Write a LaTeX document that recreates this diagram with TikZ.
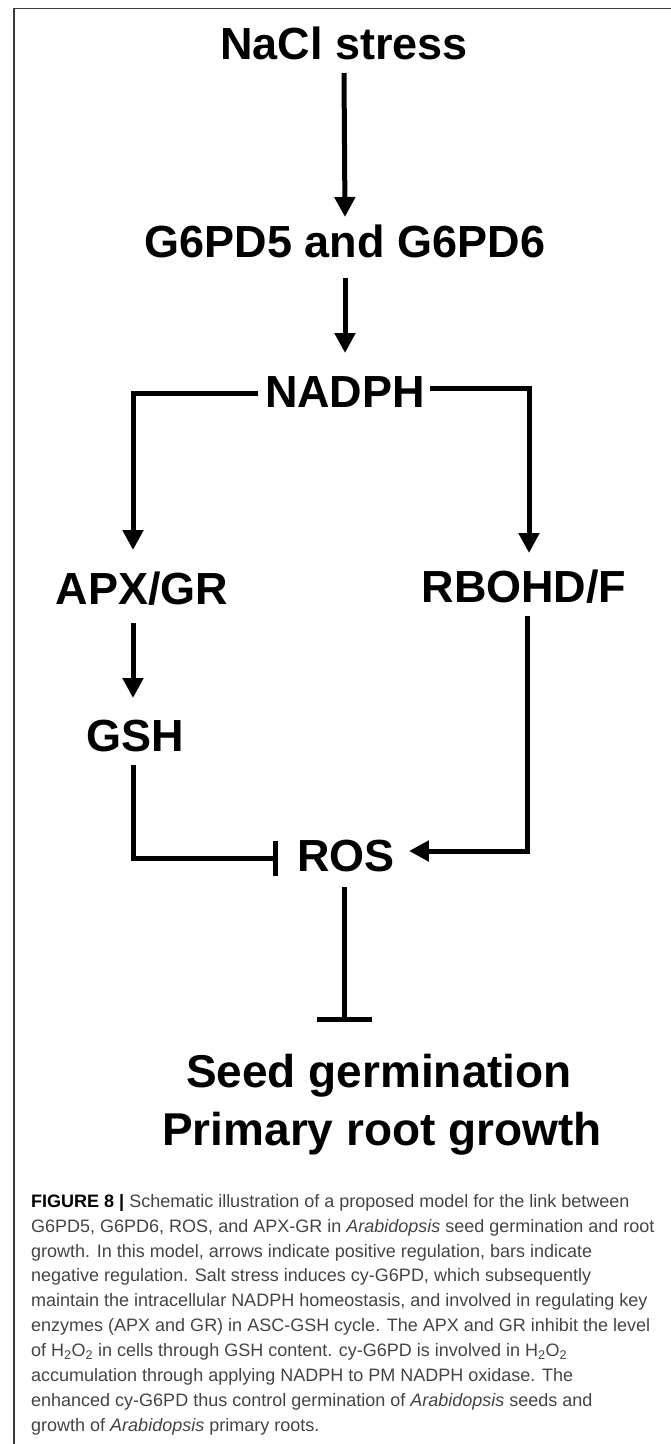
\documentclass[tikz,border=0pt]{standalone}
\usepackage{fontspec}
\setmainfont{Liberation Sans}
\usepackage{xcolor}
\usetikzlibrary{arrows.meta}

\definecolor{framegray}{HTML}{3A3A3A}
\definecolor{capgray}{HTML}{444444}

\tikzset{
  lbl/.style={font=\fontsize{45}{54}\selectfont\bfseries, inner sep=0pt, anchor=base},
  biglbl/.style={font=\fontsize{46}{55}\selectfont\bfseries, inner sep=0pt, anchor=base},
  captext/.style={font=\fontsize{18}{24.9}\selectfont, text=capgray, align=left, inner sep=0pt},
  posarrow/.style={line width=5pt, -{Triangle[width=20pt,length=20pt]}},
  negbar/.style={line width=5pt, -{Bar[width=35pt]}},
  negbarwide/.style={line width=5pt, -{Bar[width=55pt]}}
}

\begin{document}
\begin{tikzpicture}[x=1pt,y=-1pt]
  \useasboundingbox (0,0) rectangle (671,1444);
  % Frame
  \draw[framegray, line width=1.8pt] (671,8.5) -| (14,1444);

  % Labels
  \node[lbl] (nacl) at (344,59) {NaCl stress};
  \node[lbl] (g6pd) at (345,257) {G6PD5 and G6PD6};
  \node[lbl] (nadph) at (345,407) {NADPH};
  \node[lbl] (apx) at (142,604) {APX/GR};
  \node[lbl] (rboh) at (524,602) {RBOHD/F};
  \node[lbl] (gsh) at (135,751) {GSH};
  \node[lbl] (ros) at (346,871) {ROS};
  \node[biglbl] (seed) at (379,1087) {Seed germination};
  \node[biglbl] (root) at (382,1145) {Primary root growth};

  % Positive regulation
  \draw[posarrow] ([yshift=-14pt]nacl.base) -- ([yshift=40pt]g6pd.base);
  \draw[posarrow] ([yshift=-21pt]g6pd.base) -- ([yshift=54pt]nadph.base);
  \draw[posarrow] ([xshift=-7pt,yshift=14pt]nadph.base west) -| ([xshift=-9pt,yshift=54pt]apx.base);
  \draw[posarrow] ([xshift=5pt,yshift=19pt]nadph.base east) -| ([xshift=5pt,yshift=49pt]rboh.base);
  \draw[posarrow] ([xshift=-9pt,yshift=-19pt]apx.base) -- ([xshift=-2pt,yshift=53pt]gsh.base);
  \draw[posarrow] ([xshift=3pt,yshift=-14pt]rboh.base) |- ([xshift=14pt,yshift=20pt]ros.base east);

  % Negative regulation
  \draw[negbar] ([xshift=-2pt,yshift=-14pt]gsh.base) |- ([xshift=-19pt,yshift=13pt]ros.base west);
  \draw[negbarwide] ([xshift=-2pt,yshift=-16pt]ros.base) -- ([xshift=-35pt,yshift=65pt]seed.base);

  % Caption
  \node[captext, anchor=north west] (caption) at (31,1194) {%
    \textcolor{black}{\textbf{FIGURE 8 |}} Schematic illustration of a proposed model for the link between\\
    G6PD5, G6PD6, ROS, and APX-GR in \textit{Arabidopsis} seed germination and root\\
    growth. In this model, arrows indicate positive regulation, bars indicate\\
    negative regulation. Salt stress induces cy-G6PD, which subsequently\\
    maintain the intracellular NADPH homeostasis, and involved in regulating key\\
    enzymes (APX and GR) in ASC-GSH cycle. The APX and GR inhibit the level\\
    of H\textsubscript{2}O\textsubscript{2} in cells through GSH content. cy-G6PD is involved in H\textsubscript{2}O\textsubscript{2}\\
    accumulation through applying NADPH to PM NADPH oxidase. The\\
    enhanced cy-G6PD thus control germination of \textit{Arabidopsis} seeds and\\
    growth of \textit{Arabidopsis} primary roots.};
\end{tikzpicture}
\end{document}
